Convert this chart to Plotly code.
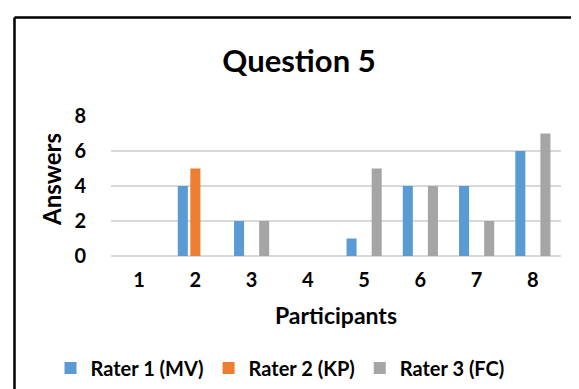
import plotly.graph_objects as go

participants = ["1", "2", "3", "4", "5", "6", "7", "8"]
rater1 = [0, 4, 2, 0, 1, 4, 4, 6]
rater2 = [0, 5, 0, 0, 0, 0, 0, 0]
rater3 = [0, 0, 2, 0, 5, 4, 2, 7]
series_names = ["Rater 1 (MV)", "Rater 2 (KP)", "Rater 3 (FC)"]
colors = ["#5B9BD5", "#ED7D31", "#A5A5A5"]
y_ticks = [0, 2, 4, 6, 8]

W, H = 579, 389
PL, PR = 103, 553          # plot area left/right in px
T, B = 108, 141
ph = H - T - B

FONT = "Lato"

fig = go.Figure()
for name, vals, c in zip(series_names, [rater1, rater2, rater3], colors):
    fig.add_trace(go.Bar(x=participants, y=vals, name=name, marker_color=c,
                         marker_line_width=0))

def px_x(p):
    return p / W

def px_y(p):
    return (H - B - p) / ph

fig.update_layout(
    width=W, height=H,
    margin=dict(l=0, r=0, t=T, b=B),
    paper_bgcolor="white", plot_bgcolor="white",
    font=dict(family=FONT, color="black", weight="bold"),
    barmode="group", bargap=0.33, bargroupgap=0.2,
    title=dict(text="Question 5", x=291 / W, xanchor="center",
               y=1 - 53 / H, yanchor="middle", yref="container",
               font=dict(family=FONT, size=31, color="black", weight="bold")),
    xaxis=dict(
        domain=[PL / W, PR / W],
        title=dict(text="Participants", font=dict(size=23, family=FONT, weight="bold"),
                   standoff=17),
        tickfont=dict(size=20, family=FONT, weight="bold"),
        showgrid=False, showline=False, ticks="",
        ticklabelstandoff=10,
    ),
    yaxis=dict(
        range=[0, 8], tickvals=y_ticks, showline=False, ticks="",
        tickfont=dict(size=20, family=FONT, weight="bold"),
        gridcolor="#D9D9D9", gridwidth=1.5,
        zeroline=True, zerolinecolor="#D9D9D9", zerolinewidth=1.5,
        ticklabelstandoff=24,
    ),
    legend=dict(orientation="h", x=272 / W, xanchor="center", xref="container",
                y=1 - 360 / H, yanchor="middle", yref="container",
                font=dict(size=20, family=FONT, weight="bold"),
                itemwidth=30, tracegroupgap=0,
                itemclick=False, traceorder="normal"),
    showlegend=True,
)

# Y-axis title
fig.add_annotation(text="Answers", xref="paper", yref="paper",
                   x=px_x(43), y=px_y(172), xanchor="center", yanchor="middle",
                   textangle=-90, showarrow=False,
                   font=dict(size=24, family=FONT, weight="bold", color="black"))

# Border box (top and left edges visible; right/bottom cropped out)
fig.add_shape(type="line", xref="paper", yref="paper",
              x0=px_x(6.5), x1=px_x(W + 5), y0=px_y(9.5), y1=px_y(9.5),
              line=dict(color="black", width=2.5))
fig.add_shape(type="line", xref="paper", yref="paper",
              x0=px_x(6.5), x1=px_x(6.5), y0=px_y(9.5), y1=px_y(H + 5),
              line=dict(color="black", width=2.5))

fig.write_html("out.html")
